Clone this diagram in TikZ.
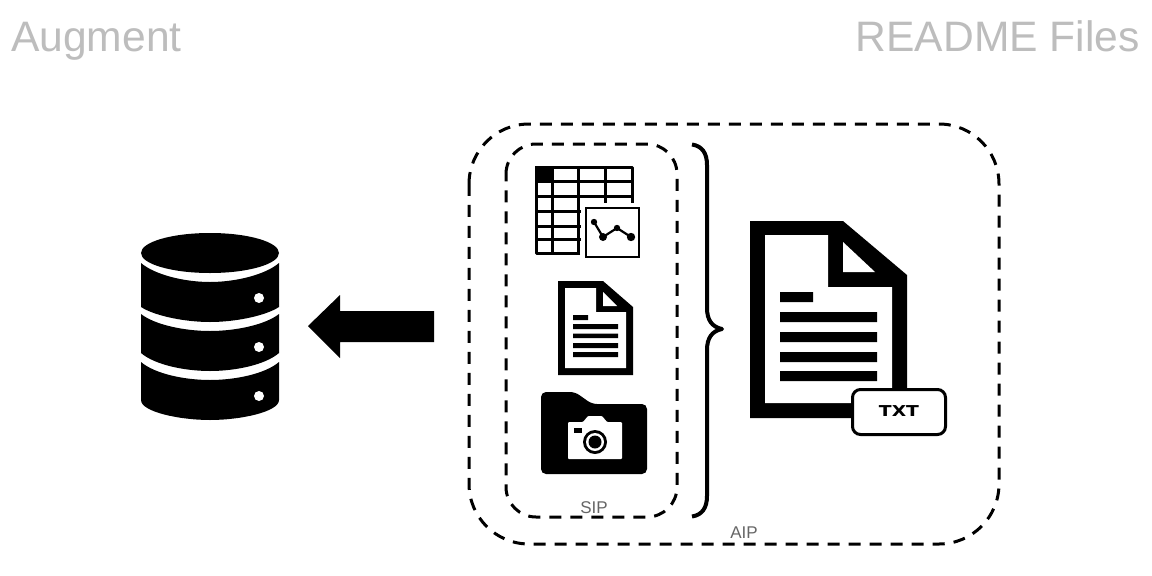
\documentclass[tikz,border=0pt]{standalone}
\usepackage{fontspec}
\setmainfont{Liberation Sans}
\newfontfamily\txtfont{DejaVu Sans}
\definecolor{titlegrey}{HTML}{BDBDBD}
\definecolor{labelgrey}{HTML}{666666}
\tikzset{
  ink/.style={fill=black,draw=none},
  paper/.style={fill=white,draw=none},
  groupline/.style={draw=black,line width=3pt,dash pattern=on 12pt off 9pt},
  titletext/.style={text=titlegrey,font=\fontsize{42.6}{43}\selectfont,inner sep=0pt},
  labeltext/.style={text=labelgrey,font=\fontsize{17}{17}\selectfont,inner sep=0pt},
  gridline/.style={draw=black,line width=3pt},
}
\begin{document}
\begin{tikzpicture}[x=1pt,y=-1pt]
\useasboundingbox (0,0) rectangle (1152,576);
\fill[white] (0,0) rectangle (1152,576);
% titles
\node[titletext,anchor=base west] (augment) at (11,51) {Augment};
\node[titletext,anchor=base east] (readme) at (1140,51) {README Files};
% database
\fill[ink] (141,263) .. controls (155,275) and (185,282) .. (210,282) .. controls (235,282) and (265,275) .. (279,263)
  -- (279,307) .. controls (265,316) and (235,322) .. (210,322) .. controls (185,322) and (155,316) .. (141,307) -- cycle;
\fill[ink] (141,314) .. controls (155,325) and (185,331) .. (210,331) .. controls (235,331) and (265,325) .. (279,314)
  -- (279,353) .. controls (265,365) and (235,371) .. (210,371) .. controls (185,371) and (155,365) .. (141,353) -- cycle;
\fill[ink] (141,362) .. controls (155,374) and (185,380) .. (210,380) .. controls (235,380) and (265,374) .. (279,362)
  -- (279,400) .. controls (279,412) and (240,420) .. (210,420) .. controls (180,420) and (141,412) .. (141,400) -- cycle;
\fill[ink] (210,253) ellipse [x radius=69,y radius=20];
\fill[paper] (259,298) circle (5) (259,347) circle (5) (259,396) circle (5);
% arrow
\fill[ink] (308,326) -- (340,295) -- (340,311) -- (434,311) -- (434,342) -- (340,342) -- (340,358) -- cycle;
% groups
\draw[groupline] (469,184) arc[start angle=180,end angle=270,radius=60] -- (939,124) arc[start angle=270,end angle=360,radius=60] -- (999,484) arc[start angle=0,end angle=90,radius=60] -- (529,544) arc[start angle=90,end angle=180,radius=60] -- cycle;
\draw[groupline] (506,174) arc[start angle=180,end angle=270,radius=30] -- (647,144) arc[start angle=270,end angle=360,radius=30] -- (677,487) arc[start angle=0,end angle=90,radius=30] -- (536,517) arc[start angle=90,end angle=180,radius=30] -- cycle;
\node[labeltext] (sip) at (594,508) {SIP};
\node[labeltext] (aip) at (744,533) {AIP};
% brace
\draw[black,line width=4pt,line join=round] (692,144.5) .. controls (702,146) and (707,153) .. (707,165) -- (707,308) .. controls (707,320) and (712,327) .. (722,329)
  .. controls (712,331) and (707,338) .. (707,350) -- (707,496) .. controls (707,508) and (702,515) .. (692,516.5);
% table
\fill[ink] (535,166) rectangle (552,182);
\draw[gridline,line join=round] (580,253) -- (536.5,253) -- (536.5,167.5) -- (632.5,167.5) -- (632.5,203);
\draw[gridline] (536,181) -- (633,181) (536,196) -- (633,196) (536,211) -- (581,211) (536,226) -- (581,226) (536,239.5) -- (581,239.5);
\draw[gridline] (552,167) -- (552,253) (578,167) -- (578,253) (605,167) -- (605,203);
\draw[black,line width=2.5pt,fill=white] (586,208) rectangle (639,257);
\draw[black,line width=2.2pt] (594,222) -- (603,237) -- (617,228) -- (631,237);
\fill[ink] (594,222) circle (3.2) (603,237) circle (4) (617,228) circle (3.2) (631,237) circle (4.2);
% small document
\fill[ink] (558,281) -- (603,281) -- (633,307) -- (633,375) -- (558,375) -- cycle;
\fill[paper] (565,288) -- (596,288) -- (596,312) -- (626,312) -- (626,368) -- (565,368) -- cycle;
\fill[paper] (603,292) -- (603,306) -- (617,306) -- cycle;
\fill[ink] (573,315) rectangle (588,320) (573,324) rectangle (618,329) (573,333.5) rectangle (618,338) (573,343) rectangle (618,348) (573,352) rectangle (618,357);
% folder
\fill[ink,rounded corners=5pt] (541,392) -- (575,392) -- (592,404) -- (647,404) -- (647,474) -- (541,474) -- cycle;
\fill[paper,rounded corners=1pt] (568,422) -- (583,422) -- (588,416) -- (602,416) -- (607,422) -- (622,422) -- (622,459) -- (568,459) -- cycle;
\fill[ink] (574,428) rectangle (582,433);
\fill[ink] (595,442) circle (12);
\fill[paper] (595,442) circle (9);
\fill[ink] (595,442) circle (6.5);
% large document
\fill[ink] (750,221) -- (843,221) -- (907,275) -- (907,418) -- (750,418) -- cycle;
\fill[paper] (765,235) -- (828,235) -- (828,287) -- (892,287) -- (892,403) -- (765,403) -- cycle;
\fill[paper] (843,242) -- (843,272) -- (875,272) -- cycle;
\fill[ink] (780,292) rectangle (813,302) (780,312) rectangle (877,322) (780,332) rectangle (877,342) (780,352) rectangle (877,362) (780,371) rectangle (877,381);
\draw[black,line width=3pt,fill=white,rounded corners=8pt] (852.5,389.5) rectangle (945.5,434.5);
\node[inner sep=0pt,xscale=1.25,font=\txtfont\bfseries\fontsize{15}{15}\selectfont] (txt) at (899,411.5) {TXT};
\end{tikzpicture}
\end{document}
